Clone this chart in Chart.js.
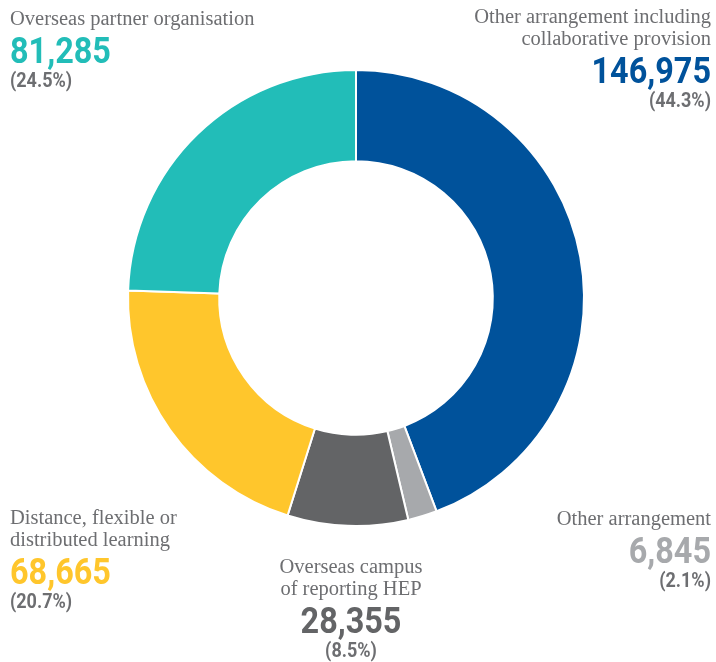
<!DOCTYPE html>
<html><head><meta charset="utf-8">
<script src="https://cdn.jsdelivr.net/npm/chart.js@4"></script>
<style>html,body{margin:0;padding:0;background:#fff;}#wrap{width:716px;height:662px;}</style>
</head><body><div id="wrap"><canvas id="c" width="716" height="662"></canvas></div>
<script>
const categories = ["Other arrangement including collaborative provision","Other arrangement","Overseas campus of reporting HEP","Distance, flexible or distributed learning","Overseas partner organisation"];
const values = [146975, 6845, 28355, 68665, 81285];
const percents = ["44.3%","2.1%","8.5%","20.7%","24.5%"];
const labelLines = [["Other arrangement including","collaborative provision"],["Other arrangement"],["Overseas campus","of reporting HEP"],["Distance, flexible or","distributed learning"],["Overseas partner organisation"]];
const colors = ["#00529B","#A7A9AC","#636466","#FFC62C","#22BDB8"];

// layout of each label block: x, align, baseline of first line
const blocks = [
  {x:711, align:"right", y:23},
  {x:711, align:"right", y:525},
  {x:351, align:"center", y:573},
  {x:10, align:"left", y:524},
  {x:10, align:"left", y:25}
];
const fmt = n => n.toLocaleString("en-GB");

function scaledText(ctx, txt, x, y, sx){
  ctx.save();
  ctx.translate(x, y);
  ctx.scale(sx, 1);
  ctx.fillText(txt, 0, 0);
  ctx.restore();
}

const labelPlugin = {
  id:"labels",
  afterDraw(chart){
    const ctx = chart.ctx;
    ctx.save();
    blocks.forEach((b,i)=>{
      ctx.textAlign = b.align;
      ctx.textBaseline = "alphabetic";
      let y = b.y;
      ctx.fillStyle = "#6D6E71";
      ctx.font = "20.5px 'Liberation Serif', 'DejaVu Serif', serif";
      labelLines[i].forEach((ln,k)=>{ if(k>0) y += 22; ctx.fillText(ln, b.x, y); });
      y += 38;
      ctx.fillStyle = colors[i];
      ctx.font = "bold 36px 'Roboto', sans-serif";
      scaledText(ctx, fmt(values[i]), b.x, y, 0.9);
      y += 24;
      ctx.fillStyle = "#6D6E71";
      ctx.font = "bold 20px 'Roboto', sans-serif";
      scaledText(ctx, "(" + percents[i] + ")", b.x, y, 0.9);
    });
    ctx.restore();
  }
};

new Chart(document.getElementById("c"), {
  type:"doughnut",
  data:{labels:categories, datasets:[{data:values, backgroundColor:colors, borderColor:"#ffffff", borderWidth:2}]},
  options:{
    responsive:false, animation:false, cutout:"60%",
    layout:{padding:{left:127, top:69, right:131, bottom:135}},
    plugins:{legend:{display:false}, tooltip:{enabled:false}}
  },
  plugins:[labelPlugin]
});
</script></body></html>
